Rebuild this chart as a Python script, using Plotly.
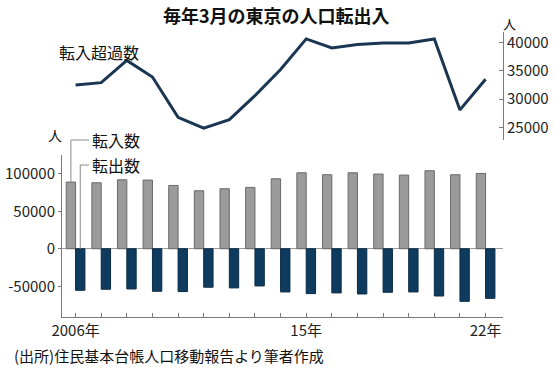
import plotly.graph_objects as go

years = list(range(2006, 2023))
net_inflow = [32500, 32900, 36800, 33900, 26800, 24900, 26400, 30600, 35200,
              40600, 39000, 39600, 39900, 39900, 40600, 28100, 33500]
inflow = [88900, 88000, 92000, 91600, 84400, 77300, 80000, 81800, 93300,
          101300, 98700, 101300, 99600, 98200, 104000, 98700, 100400]
outflow = [-55400, -54000, -53600, -56700, -57100, -51300, -52200, -49600, -57600,
           -59800, -58900, -60300, -58000, -57600, -63000, -70100, -66100]
left_ticks = [-50000, 0, 50000, 100000]
right_ticks = [25000, 30000, 35000, 40000]
tick_text = {2006: "2006年", 2015: "15年", 2022: "22年"}

W, H = 554, 369
FONT = "Noto Sans CJK JP"
GRAY, GRAY_EDGE = "#9b9b9b", "#6a6a6a"
NAVY, NAVY_EDGE = "#0f3b5e", "#0a2b45"
LINE = "#1b3652"
AX = "#7a7a7a"

def px(x):
    return x / W

def py(y):
    return 1 - y / H

xdom = [px(62), px(503)]
xr = [2005.47, 2022.68]
bot_dom = [py(317), py(155)]
bot_rng = [-91000, 125000]
top_dom = [py(140), py(31.7)]
top_rng = [22800, 41870]
bargap = 0.27

fig = go.Figure()
fig.add_trace(go.Bar(x=years, y=inflow, name="転入数", marker=dict(color=GRAY, line=dict(color=GRAY_EDGE, width=1)),
                     xaxis="x", yaxis="y"))
fig.add_trace(go.Bar(x=years, y=outflow, name="転出数", marker=dict(color=NAVY, line=dict(color=NAVY_EDGE, width=1)),
                     xaxis="x", yaxis="y"))
fig.add_trace(go.Scatter(x=years, y=net_inflow, mode="lines", line=dict(color=LINE, width=3),
                         name="転入超過数", xaxis="x2", yaxis="y2"))

tickfont = dict(family=FONT, size=15, color="#222")

fig.update_layout(
    width=W, height=H,
    margin=dict(l=0, r=0, t=0, b=0, pad=0),
    paper_bgcolor="white", plot_bgcolor="rgba(0,0,0,0)",
    showlegend=False,
    barmode="group", bargap=bargap, bargroupgap=0,
    font=dict(family=FONT, color="#222"),
    xaxis=dict(domain=xdom, range=xr, anchor="y", showline=True, linecolor=AX, linewidth=1,
               ticks="inside", ticklen=4, tickcolor=AX, tickvals=years,
               ticktext=[tick_text.get(y, "") for y in years], tickfont=tickfont,
               showgrid=False, zeroline=False, automargin=False),
    yaxis=dict(domain=bot_dom, range=bot_rng, anchor="x", showline=True, linecolor=AX, linewidth=1,
               ticks="outside", ticklen=3, tickcolor=AX, tickvals=left_ticks,
               ticktext=[str(v) for v in left_ticks],
               tickfont=tickfont, showgrid=False, zeroline=True, zerolinecolor="#9a9a9a",
               zerolinewidth=1, automargin=False),
    xaxis2=dict(domain=xdom, range=xr, anchor="y2", visible=False),
    yaxis2=dict(domain=top_dom, range=top_rng, anchor="x2", side="right", showline=True,
                linecolor=AX, linewidth=1, ticks="inside", ticklen=4, tickcolor=AX,
                tickvals=right_ticks, ticktext=[str(v) for v in right_ticks], tickfont=tickfont,
                showgrid=False, zeroline=False, automargin=False),
)

def ann(text, x, y, size, xanchor="center", bold=False):
    fig.add_annotation(text=f"<b>{text}</b>" if bold else text, x=px(x), y=py(y), xref="paper", yref="paper",
                       xanchor=xanchor, yanchor="middle", showarrow=False,
                       font=dict(family=FONT, size=size, color="#111"))

ann("毎年3月の東京の人口転出入", 276, 15, 18, bold=True)
ann("転入超過数", 99, 52, 16)
ann("人", 509, 23, 13)
ann("人", 55, 135, 14)
ann("転入数", 90, 140, 16, xanchor="left")
ann("転出数", 90, 165, 16, xanchor="left")
ann("(出所)住民基本台帳人口移動報告より筆者作成", 12, 355, 15, xanchor="left")

# leader lines from labels to the first bars
half = (1 - bargap) / 4
def to_paper(v):
    return bot_dom[0] + (v - bot_rng[0]) / (bot_rng[1] - bot_rng[0]) * (bot_dom[1] - bot_dom[0])

x_in = years[0] - half
x_out = years[0] + half
x_lab = xr[0] + (89 - 62) / (503 - 62) * (xr[1] - xr[0])
fig.add_shape(type="path", xref="x", yref="paper",
              path=f"M {x_in},{to_paper(inflow[0])} L {x_in},{py(140)} L {x_lab},{py(140)}",
              line=dict(color="#8a8a8a", width=1))
fig.add_shape(type="path", xref="x", yref="paper",
              path=f"M {x_out},{to_paper(0)} L {x_out},{py(165)} L {x_lab},{py(165)}",
              line=dict(color="#8a8a8a", width=1))

fig.write_html("out.html", config={"displayModeBar": False},
               post_script="document.body.style.margin='0';document.body.style.overflow='hidden';")
